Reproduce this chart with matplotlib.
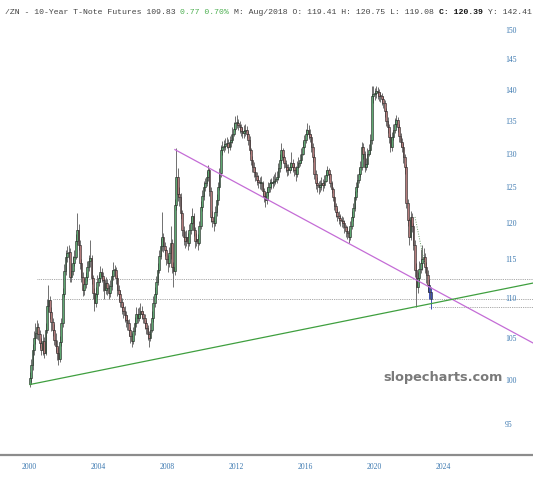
import numpy as np
import matplotlib
matplotlib.use("Agg")
import matplotlib.pyplot as plt

# monthly candles, Jan 2000 .. Apr 2023
closes = [
    100.2, 101.8, 103.5, 105.0, 105.6, 106.3, 105.5, 104.4, 103.5, 104.6, 103.2, 106.0,
    109.0, 109.7, 108.2, 107.0, 106.0, 104.8, 104.0, 103.2, 102.5, 104.5, 106.8, 110.5,
    113.5, 115.3, 115.8, 116.0, 112.7, 113.5, 114.5, 115.3, 117.5, 119.0, 117.0, 114.5,
    112.7, 111.0, 111.8, 112.7, 114.0, 114.8, 115.2, 112.5, 110.6, 109.3, 110.5, 112.0,
    112.5, 113.3, 112.8, 112.3, 111.0, 111.9, 111.2, 110.6, 111.5, 112.8, 113.6, 113.6,
    112.5, 111.0, 110.5, 109.5, 108.8, 108.4, 107.8, 107.2, 106.8, 106.0, 105.2, 104.7,
    105.8, 106.8, 108.0, 107.5, 108.0, 108.4, 108.0, 107.5, 106.8, 106.2, 105.5, 105.0,
    106.0, 107.5, 109.3, 110.5, 112.0, 113.6, 115.5, 116.8, 118.0, 116.8, 116.2, 115.0,
    114.5, 115.8, 117.2, 114.0, 113.5, 122.5, 126.5, 124.0, 123.6, 121.3, 119.0, 118.0,
    117.5, 118.0, 117.2, 119.0, 120.0, 121.0, 119.0, 117.5, 117.8, 117.2, 119.5, 122.2,
    123.8, 125.0, 125.6, 126.5, 127.6, 124.5, 120.8, 120.3, 120.0, 121.5, 123.2, 125.0,
    127.1, 130.5, 131.0, 131.2, 131.4, 131.6, 131.0, 131.8, 132.1, 133.0, 133.8, 134.7,
    134.7, 134.3, 134.1, 133.5, 133.2, 133.4, 133.6, 133.0, 132.1, 130.5, 129.0, 128.0,
    127.3, 126.6, 126.1, 125.8, 125.6, 125.6, 124.5, 123.8, 123.2, 124.3, 125.0, 125.6,
    125.6, 125.8, 126.0, 126.3, 126.5, 127.8, 129.0, 130.5, 129.5, 128.6, 128.0, 127.6,
    127.6, 128.0, 128.6, 128.0, 127.5, 127.0, 128.0, 128.6, 129.0, 130.0, 131.0, 132.0,
    133.0, 133.6, 133.0, 132.5, 131.0, 129.5, 127.0, 125.6, 125.3, 125.0, 125.3, 125.6,
    125.3, 126.0, 126.8, 127.6, 127.0, 125.6, 124.8, 123.6, 122.4, 121.5, 121.0, 120.6,
    120.4, 120.2, 120.0, 119.4, 118.8, 118.6, 118.0, 119.5, 120.8, 122.0, 123.6, 125.0,
    126.1, 127.0, 128.0, 131.0, 130.0, 128.0, 128.5, 130.0, 130.5, 132.1, 138.9, 139.3,
    139.5, 139.8, 139.6, 139.0, 138.9, 138.5, 137.9, 136.5, 135.0, 134.0, 132.5, 131.0,
    132.5, 133.6, 134.5, 135.2, 134.0, 132.6, 131.8, 131.0, 129.5, 128.0, 122.8, 120.4,
    118.0, 120.8, 119.5, 117.0, 113.6, 111.4, 112.5, 113.8, 114.5, 115.0, 115.3, 114.0,
    113.0, 111.6, 110.8, 109.8,
]
highs = [
    100.9, 102.5, 104.3, 105.8, 106.9, 107.2, 106.8, 106.0, 105.0, 105.5, 105.1, 106.8,
    109.8, 111.6, 110.3, 108.9, 107.5, 106.7, 105.6, 104.8, 103.9, 105.2, 107.5, 111.2,
    114.4, 116.2, 116.8, 117.0, 116.5, 114.5, 115.4, 116.3, 118.4, 121.3, 119.8, 117.6,
    115.0, 113.3, 112.5, 113.4, 114.8, 115.6, 117.6, 115.6, 113.0, 111.2, 111.4, 112.9,
    113.1, 114.1, 113.9, 113.3, 112.6, 112.7, 112.4, 111.8, 112.3, 113.6, 114.6, 114.3,
    114.0, 112.9, 111.6, 111.0, 110.0, 109.4, 109.0, 108.3, 107.8, 107.3, 106.4, 105.6,
    106.3, 107.6, 108.9, 108.7, 108.8, 109.3, 109.0, 108.4, 108.0, 107.2, 106.6, 105.9,
    106.8, 108.3, 110.2, 111.4, 112.8, 114.5, 116.3, 117.9, 121.5, 118.6, 117.3, 116.4,
    115.6, 116.7, 119.5, 117.8, 114.6, 123.3, 130.9, 127.8, 125.0, 124.2, 121.8, 119.6,
    118.8, 119.0, 118.6, 119.8, 121.0, 122.1, 121.4, 119.4, 118.6, 118.4, 120.3, 123.0,
    124.6, 125.9, 126.4, 127.4, 128.3, 127.9, 125.0, 121.6, 121.0, 122.3, 124.1, 125.8,
    127.9, 131.3, 131.9, 132.0, 132.3, 132.5, 132.2, 132.7, 133.0, 134.0, 134.9, 135.8,
    135.9, 135.3, 135.0, 134.6, 134.1, 134.3, 134.5, 134.2, 133.4, 132.6, 130.9, 129.6,
    128.7, 128.0, 127.2, 126.8, 126.5, 126.6, 126.0, 124.9, 124.4, 125.0, 125.8, 126.3,
    126.4, 126.6, 126.9, 127.2, 127.4, 128.6, 129.9, 131.6, 130.9, 129.8, 129.1, 128.5,
    128.5, 128.8, 130.3, 129.2, 128.6, 128.1, 128.9, 129.5, 129.9, 130.9, 131.9, 132.8,
    133.8, 134.7, 134.4, 133.7, 133.0, 131.6, 130.0, 127.5, 126.5, 126.0, 126.1, 126.5,
    126.2, 126.8, 127.6, 128.2, 127.9, 127.1, 125.9, 125.1, 123.8, 122.7, 122.0, 121.6,
    121.2, 121.0, 120.8, 120.4, 119.7, 119.5, 119.1, 120.3, 121.6, 122.8, 124.5, 125.8,
    126.9, 127.8, 128.9, 131.8, 131.6, 130.4, 129.3, 130.8, 131.4, 133.0, 140.6, 140.5,
    140.2, 140.6, 140.4, 140.1, 139.6, 139.4, 139.0, 138.4, 137.0, 135.6, 134.6, 133.0,
    133.3, 134.5, 135.4, 136.0, 135.6, 134.6, 133.2, 132.3, 131.6, 130.0, 128.5, 123.4,
    120.6, 121.6, 121.3, 120.0, 117.6, 114.5, 113.4, 114.8, 116.4, 116.9, 116.6, 115.8,
    114.6, 113.6, 112.4, 111.4,
]
lows = [
    99.2, 99.8, 101.2, 103.0, 104.3, 104.9, 104.8, 103.8, 102.9, 103.0, 102.6, 103.0,
    105.6, 108.2, 107.4, 105.9, 105.2, 104.1, 103.3, 102.4, 101.8, 102.1, 104.0, 106.3,
    110.1, 112.9, 114.6, 115.0, 112.0, 112.1, 113.0, 114.1, 115.0, 117.0, 116.2, 113.8,
    112.0, 110.3, 110.4, 111.2, 112.2, 113.5, 114.0, 111.8, 109.9, 108.3, 108.9, 110.1,
    111.5, 112.0, 112.0, 110.9, 109.9, 110.5, 110.4, 109.8, 110.1, 111.0, 112.3, 112.8,
    111.8, 110.2, 109.6, 108.8, 107.9, 107.5, 107.0, 106.4, 106.0, 105.2, 104.4, 103.9,
    104.3, 105.4, 106.4, 106.9, 107.1, 107.5, 107.3, 106.9, 106.1, 105.5, 104.8, 103.9,
    104.6, 105.7, 107.0, 108.8, 110.0, 111.6, 113.2, 115.1, 116.1, 116.0, 115.4, 114.2,
    113.3, 114.0, 115.1, 113.2, 111.4, 113.0, 121.8, 123.0, 122.4, 120.5, 118.1, 117.0,
    116.5, 116.8, 116.3, 116.8, 118.5, 119.8, 118.2, 116.6, 116.8, 116.2, 116.9, 119.1,
    121.6, 123.2, 124.5, 125.2, 126.0, 123.8, 120.1, 119.4, 118.9, 119.5, 121.0, 122.5,
    124.6, 126.5, 129.8, 130.3, 130.5, 130.8, 130.1, 130.5, 131.0, 131.6, 132.6, 133.4,
    133.9, 133.6, 133.2, 132.7, 132.4, 132.3, 132.6, 132.4, 131.3, 129.9, 128.3, 127.2,
    126.5, 125.9, 125.3, 124.9, 124.8, 124.6, 123.6, 122.9, 122.2, 122.6, 123.8, 124.4,
    124.8, 124.9, 125.2, 125.5, 125.7, 126.1, 127.2, 128.4, 128.7, 127.8, 127.2, 126.6,
    126.8, 127.1, 127.6, 127.3, 126.6, 126.0, 126.5, 127.8, 128.2, 128.6, 129.8, 130.8,
    131.6, 132.7, 132.2, 131.8, 130.2, 128.7, 126.3, 124.8, 124.3, 124.1, 124.3, 124.7,
    124.5, 124.9, 125.8, 126.5, 126.3, 125.0, 124.2, 123.0, 121.8, 120.8, 120.2, 119.8,
    119.6, 119.4, 119.2, 118.6, 118.0, 117.8, 117.2, 117.6, 119.1, 120.3, 121.6, 123.2,
    124.4, 125.6, 126.5, 127.6, 129.2, 127.3, 127.5, 128.0, 129.6, 130.0, 131.5, 137.8,
    138.4, 138.7, 138.5, 138.1, 138.0, 137.6, 137.0, 135.7, 134.2, 133.1, 131.6, 130.2,
    130.4, 132.0, 133.1, 134.0, 133.3, 131.8, 131.0, 130.2, 128.6, 127.0, 122.0, 119.5,
    116.9, 117.6, 118.7, 116.2, 112.7, 108.8, 110.6, 112.0, 113.2, 113.6, 114.2, 113.2,
    111.9, 110.7, 109.8, 108.6,
]
first_open = 99.6
n_current = 2  # last candles drawn in blue

# trend lines (year, price)
purple_x = [2008.46, 2029.22]
purple_y = [130.6, 104.4]
green_x = [2000.06, 2029.22]
green_y = [99.5, 111.9]
minor_x = [2022.38, 2022.96]
minor_y = [120.8, 114.2]
# dotted horizontal levels (start year, price)
level_start = [2000.46, 2001.4, 2023.2]
level_price = [112.4, 109.8, 108.9]

year_ticks = [2000, 2004, 2008, 2012, 2016, 2020, 2024]
price_ticks = [95, 100, 105, 110, 115, 120, 125, 130, 135, 140, 145, 150]

closes = np.array(closes)
highs = np.array(highs)
lows = np.array(lows)
opens = np.concatenate([[first_open], closes[:-1]])
t = 2000 + (np.arange(len(closes)) + 0.5) / 12.0

fig = plt.figure(figsize=(5.33, 4.8), dpi=100)
ax = fig.add_axes([0, 25 / 480, 1, 455 / 480])
ax.set_yscale("log")
ax.set_xlim(1998.32, 2029.22)
ax.set_ylim(91.7, 155.3)

up = closes >= opens
body_c = np.where(up, "#5fa872", "#b47c7c").astype(object)
body_c[-n_current:] = "#3d4fb0"
wick_c = np.array(["#707070"] * len(closes), dtype=object)
wick_c[-n_current:] = "#3d4fb0"

ax.vlines(t, lows, highs, colors=list(wick_c), linewidth=0.7, zorder=2)
bottoms = np.minimum(opens, closes)
heights = np.maximum(np.abs(closes - opens), 0.15)
ax.bar(t, heights, bottom=bottoms, width=0.1, color=list(body_c),
       edgecolor="#222222", linewidth=0.4, zorder=3)

ax.plot(purple_x, purple_y, color="#c46cd6", linewidth=0.9, zorder=4)
ax.plot(green_x, green_y, color="#3f9f3f", linewidth=0.9, zorder=4)
ax.plot(minor_x, minor_y, color="#6aa06a", linewidth=0.7, linestyle=(0, (1, 1.5)), zorder=4)
for xs, p in zip(level_start, level_price):
    ax.plot([xs, 2029.22], [p, p], color="#8a8a8a", linewidth=0.6,
            linestyle=(0, (1, 1.2)), zorder=1)

# axes styling
for s in ["top", "left", "right"]:
    ax.spines[s].set_visible(False)
ax.spines["bottom"].set_color("#8c8c8c")
ax.spines["bottom"].set_linewidth(1.6)

ax.yaxis.tick_right()
ax.set_yticks(price_ticks)
ax.set_yticklabels([str(p) for p in price_ticks])
ax.yaxis.set_minor_locator(matplotlib.ticker.NullLocator())
ax.tick_params(axis="y", length=0, pad=-20, labelsize=5.5, labelcolor="#3b78b0")
ax.set_xticks(year_ticks)
ax.set_xticklabels([str(y) for y in year_ticks])
ax.tick_params(axis="x", length=0, pad=6, labelsize=5.5, labelcolor="#3b78b0")
for lab in ax.get_xticklabels() + ax.get_yticklabels():
    lab.set_family("Liberation Serif")

# header line, monospace, split into coloured pieces
pieces = [
    ("/ZN - 10-Year T-Note Futures 109.83 ", "#444444", "normal"),
    ("0.77 0.70% ", "#4caf50", "normal"),
    ("M: Aug/2018 O: 119.41 H: 120.75 L: 119.08 ", "#444444", "normal"),
    ("C: 120.39 ", "#111111", "bold"),
    ("Y: 142.41", "#444444", "normal"),
]
fsize = 5.82
x0 = 5 / 533
y0 = 1 - 12 / 480
full = "".join(p[0] for p in pieces)
probe = fig.text(0, 0, full, family="Liberation Mono", fontsize=fsize)
fig.canvas.draw()
char_w = probe.get_window_extent().width / len(full) / 533
probe.remove()

pos = 0
for txt, col, wt in pieces:
    fig.text(x0 + pos * char_w, y0, txt.rstrip(), color=col, weight=wt,
             family="Liberation Mono", fontsize=fsize, ha="left", va="center")
    pos += len(txt)

fig.text(443 / 533, 1 - 377 / 480, "slopecharts.com", color="#7a7a7a",
         fontsize=9.3, weight="bold", family="DejaVu Sans", ha="center", va="center")

fig.savefig("out.png", dpi=100)
